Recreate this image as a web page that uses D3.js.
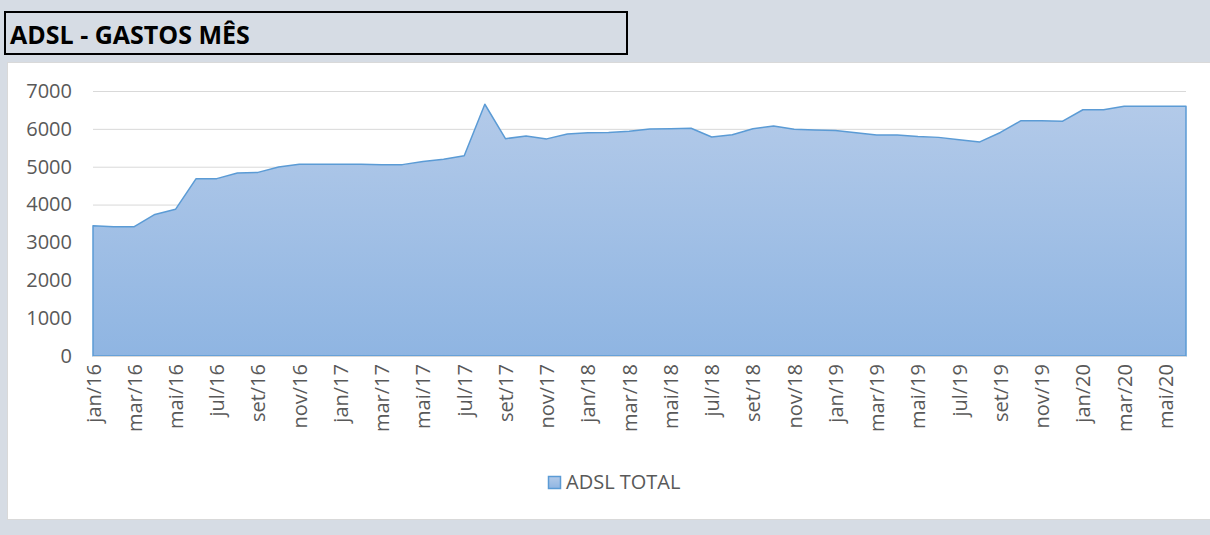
<!DOCTYPE html>
<html>
<head>
<meta charset="utf-8">
<script src="https://cdn.jsdelivr.net/npm/d3@7"></script>
<style>
  body { margin: 0; background: #d6dce4; }
  svg { display: block; font-family: "Open Sans", sans-serif; }
</style>
</head>
<body>
<div id="chart"></div>
<script>
// categories: one per month, jan/16 .. jun/20
var months = [
  "jan/16","fev/16","mar/16","abr/16","mai/16","jun/16","jul/16","ago/16","set/16","out/16","nov/16","dez/16",
  "jan/17","fev/17","mar/17","abr/17","mai/17","jun/17","jul/17","ago/17","set/17","out/17","nov/17","dez/17",
  "jan/18","fev/18","mar/18","abr/18","mai/18","jun/18","jul/18","ago/18","set/18","out/18","nov/18","dez/18",
  "jan/19","fev/19","mar/19","abr/19","mai/19","jun/19","jul/19","ago/19","set/19","out/19","nov/19","dez/19",
  "jan/20","fev/20","mar/20","abr/20","mai/20","jun/20"
];
// ADSL TOTAL, monthly spend
var adslTotal = [
  3440, 3415, 3415, 3740, 3875, 4685, 4685, 4835, 4850, 4990, 5065, 5065,
  5065, 5065, 5055, 5055, 5135, 5195, 5290, 6650, 5740, 5810, 5735, 5865,
  5900, 5905, 5935, 5995, 6005, 6015, 5785, 5845, 6005, 6075, 5990, 5970,
  5955, 5900, 5840, 5840, 5795, 5775, 5715, 5655, 5905, 6215, 6215, 6200,
  6505, 6505, 6595, 6595, 6595, 6595
];
var yTicks = [0, 1000, 2000, 3000, 4000, 5000, 6000, 7000];
var seriesName = "ADSL TOTAL";
var title = "ADSL - GASTOS MÊS";

var svgWidth = 1210, svgHeight = 535;
var plot = {left: 93, right: 1186, top: 91, bottom: 356};
var labelFont = "20px";

var svg = d3.select("#chart").append("svg")
    .attr("width", svgWidth)
    .attr("height", svgHeight);

// gradient for the area
var defs = svg.append("defs");
var grad = defs.append("linearGradient")
    .attr("id", "areaFill")
    .attr("x1", 0).attr("y1", 0).attr("x2", 0).attr("y2", 1);
grad.append("stop").attr("offset", "0%").attr("stop-color", "#b3cae9");
grad.append("stop").attr("offset", "100%").attr("stop-color", "#8fb5e2");

// background panels
svg.append("rect")
    .attr("x", 0).attr("y", 0).attr("width", svgWidth).attr("height", svgHeight)
    .style("fill", "#d6dce4");
svg.append("rect")
    .attr("x", 7.5).attr("y", 62.5).attr("width", svgWidth).attr("height", 457)
    .style("fill", "#ffffff")
    .style("stroke", "#d9d9d9");

// title box
svg.append("rect")
    .attr("x", 5).attr("y", 12).attr("width", 622).attr("height", 42)
    .style("fill", "#d6dce4")
    .style("stroke", "#000")
    .style("stroke-width", 2);
svg.append("text")
    .attr("x", 10).attr("y", 44)
    .style("font-size", "25px")
    .style("font-weight", "bold")
    .style("fill", "#000")
    .text(title);

// scales
var x = d3.scalePoint()
    .domain(months)
    .range([plot.left, plot.right]);
var y = d3.scaleLinear()
    .domain([0, 7000])
    .range([plot.bottom, plot.top]);

// gridlines
svg.append("g")
    .attr("transform", "translate(" + plot.left + ",0)")
    .call(d3.axisLeft(y).tickValues(yTicks).tickSize(-(plot.right - plot.left)).tickFormat(""))
    .call(function(g) { g.select(".domain").remove(); })
    .selectAll("line")
    .style("stroke", "#d9d9d9");

// area
var area = d3.area()
    .x(function(d, i) { return x(months[i]); })
    .y0(y(0))
    .y1(function(d) { return y(d); });

svg.append("path")
    .datum(adslTotal)
    .attr("d", area)
    .style("fill", "url(#areaFill)")
    .style("stroke", "#5b9bd5")
    .style("stroke-width", 1.5)
    .style("stroke-linejoin", "round");

// y axis labels
var yAxis = svg.append("g")
    .attr("transform", "translate(" + plot.left + ",0)")
    .call(d3.axisLeft(y).tickValues(yTicks).tickSize(0).tickPadding(21).tickFormat(d3.format("d")));
yAxis.select(".domain").remove();
yAxis.selectAll("text")
    .style("font-size", labelFont)
    .style("font-family", "'Open Sans', sans-serif")
    .style("fill", "#595959");

// x axis
var xAxis = svg.append("g")
    .attr("transform", "translate(0," + plot.bottom + ")")
    .call(d3.axisBottom(x)
      .tickValues(months.filter(function(d, i) { return i % 2 === 0; }))
      .tickSize(0));
xAxis.select(".domain")
    .style("stroke", "#d9d9d9")
    .attr("d", "M" + plot.left + ",0.5H" + plot.right);
xAxis.selectAll("text")
    .attr("y", 0)
    .attr("x", -8)
    .attr("dy", "0.35em")
    .attr("transform", "rotate(-90)")
    .style("text-anchor", "end")
    .style("font-size", labelFont)
    .style("font-family", "'Open Sans', sans-serif")
    .style("fill", "#595959");

// legend
svg.append("rect")
    .attr("x", 548.5).attr("y", 476.5).attr("width", 12).attr("height", 12)
    .style("fill", "url(#areaFill)")
    .style("stroke", "#5b9bd5")
    .style("stroke-width", 1.5);
svg.append("text")
    .attr("x", 566).attr("y", 489)
    .style("font-size", labelFont)
    .style("fill", "#595959")
    .text(seriesName);
</script>
</body>
</html>
